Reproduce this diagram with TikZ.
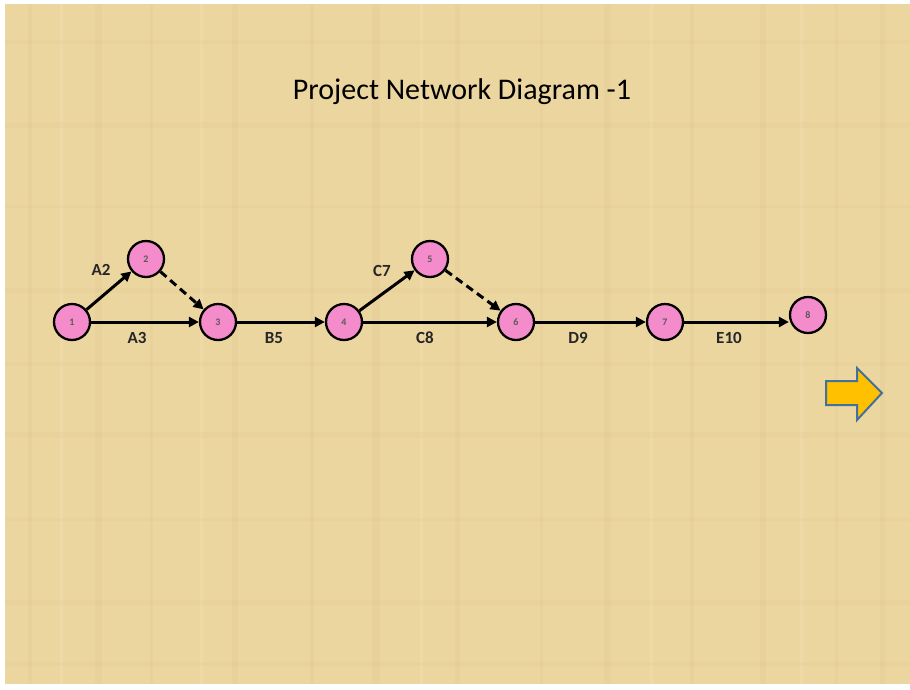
\documentclass[tikz,border=0pt]{standalone}
\usepackage{fontspec}
\setmainfont{Carlito}
\usetikzlibrary{arrows.meta}
\definecolor{paper}{HTML}{ECD6A0}
\definecolor{paperdark}{HTML}{D9BE85}
\definecolor{paperlight}{HTML}{F3E2B8}
\definecolor{nodepink}{HTML}{F48CCB}
\definecolor{arrowfill}{HTML}{FFC000}
\definecolor{arrowedge}{HTML}{41719C}
\tikzset{
  evt/.style={circle, draw=black, line width=2.3pt, fill=nodepink, minimum size=36pt, inner sep=0pt,
    font=\fontsize{10}{11}\selectfont\bfseries, text=black!65},
  act/.style={line width=3pt, -{Triangle[length=10pt,width=10pt]}},
  dummy/.style={act, dash pattern=on 8pt off 5pt},
  lab/.style={font=\fontsize{17}{19}\selectfont\bfseries, text=black!85}
}
\begin{document}
\begin{tikzpicture}[x=1pt,y=-1pt]
\useasboundingbox (0,0) rectangle (910,689);
\fill[white] (0,0) rectangle (910,689);
\fill[paper] (5,4) rectangle (910,684);
% faint texture stripes
\foreach \xx/\ww in {28/4,95/7,150/3,232/6,310/4,372/8,455/5,540/3,604/7,690/4,760/6,835/3,880/5}
  \fill[paperdark, opacity=0.18] (\xx,4) rectangle ++(\ww,680);
\foreach \xx in {60,200,420,650,800}
  \fill[paperlight, opacity=0.3] (\xx,4) rectangle ++(3,680);
\foreach \yy/\hh in {40/4,122/6,205/3,288/5,362/4,432/6,518/3,600/5,662/4}
  \fill[paperdark, opacity=0.14] (5,\yy) rectangle ++(905,\hh);

\node[font=\fontsize{30}{34}\selectfont] (title) at (462,92) {Project Network Diagram -1};

\node[evt] (n1) at (72,322) {1};
\node[evt] (n2) at (146,259) {2};
\node[evt] (n3) at (218,322) {3};
\node[evt] (n4) at (344,322) {4};
\node[evt] (n5) at (430,259) {5};
\node[evt] (n6) at (516,322) {6};
\node[evt] (n7) at (665,322) {7};
\node[evt] (n8) at (808,315) {8};

\draw[act] (n1) -- (n2);
\draw[act] (n1.east) -- (n3.west);
\draw[dummy] (n2) -- (n3);
\draw[act] (n3.east) -- (n4.west);
\draw[act] (n4) -- (n5);
\draw[act] (n4.east) -- (n6.west);
\draw[dummy] (n5) -- (n6);
\draw[act] (n6.east) -- (n7.west);
\draw[act] (n7.east) -- (n8.west |- n7.east);

\node[lab] (lA2) at (101,270) {A2};
\node[lab] (lA3) at (137,338) {A3};
\node[lab] (lB5) at (274,338) {B5};
\node[lab] (lC7) at (382,271) {C7};
\node[lab] (lC8) at (425,338) {C8};
\node[lab] (lD9) at (578,338) {D9};
\node[lab] (lE10) at (729,338) {E10};

\draw[line width=2pt, draw=arrowedge, fill=arrowfill, line join=miter]
  (826,381) -- (857,381) -- (857,368) -- (882,393) -- (857,420) -- (857,405) -- (826,405) -- cycle;
\end{tikzpicture}
\end{document}
